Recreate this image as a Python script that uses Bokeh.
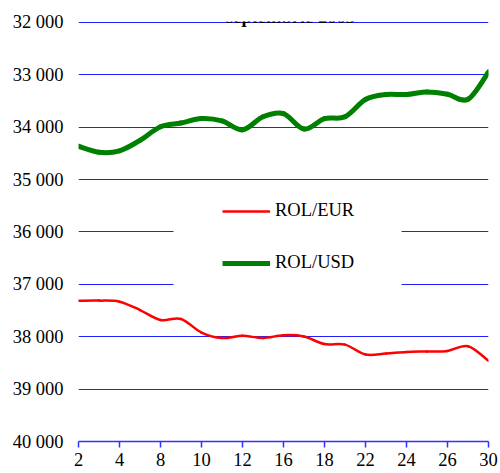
from bokeh.plotting import figure
from bokeh.models import (Range1d, FixedTicker, Legend, LegendItem, Label, BoxAnnotation)
from bokeh.embed import file_html
from bokeh.resources import INLINE

# ---- data ----
days = [2, 3, 4, 5, 8, 9, 10, 11, 12, 15, 16, 17, 18, 19, 22, 23, 24, 25, 26, 29, 30]
rol_usd = [34363, 34477, 34450, 34250, 33990, 33920, 33835, 33880, 34050, 33800, 33740,
           34035, 33835, 33800, 33470, 33375, 33375, 33325, 33370, 33465, 32945]
rol_eur = [37313, 37310, 37330, 37490, 37680, 37660, 37920, 38025, 37980, 38025, 37970,
           37995, 38140, 38150, 38340, 38320, 38290, 38280, 38270, 38180, 38460]
y_ticks = [32000, 33000, 34000, 35000, 36000, 37000, 38000, 39000, 40000]
y_labels = ["32 000", "33 000", "34 000", "35 000", "36 000", "37 000", "38 000", "39 000", "40 000"]
series_names = ["ROL/EUR", "ROL/USD"]
title_text = "septembrie 2003"

FONT = "'Liberation Serif', 'Times New Roman', serif"
xs = list(range(len(days)))


def bezier_segments(x, y, t=1.0 / 6.0):
    n = len(x)
    seg = dict(x0=[], y0=[], x1=[], y1=[], cx0=[], cy0=[], cx1=[], cy1=[])
    for i in range(n - 1):
        ip = max(i - 1, 0)
        i2 = min(i + 2, n - 1)
        seg["x0"].append(x[i]); seg["y0"].append(y[i])
        seg["x1"].append(x[i + 1]); seg["y1"].append(y[i + 1])
        seg["cx0"].append(x[i] + (x[i + 1] - x[ip]) * t)
        seg["cy0"].append(y[i] + (y[i + 1] - y[ip]) * t)
        seg["cx1"].append(x[i + 1] - (x[i2] - x[i]) * t)
        seg["cy1"].append(y[i + 1] - (y[i2] - y[i]) * t)
    return seg


p = figure(width=500, height=473, output_backend="svg", toolbar_location=None,
           x_range=Range1d(0, len(days) - 1), y_range=Range1d(40000, 31981),
           min_border_left=78, min_border_right=12, min_border_top=21, min_border_bottom=32)
p.outline_line_color = None
p.background_fill_color = "white"
p.border_fill_color = "white"

# grid
p.xgrid.visible = False
p.ygrid.ticker = FixedTicker(ticks=y_ticks)
p.ygrid.grid_line_color = "#2020ff"
p.ygrid.grid_line_width = 1

# axes
yax = p.yaxis[0]
yax.ticker = FixedTicker(ticks=y_ticks)
yax.major_label_overrides = {t: l for t, l in zip(y_ticks, y_labels)}
yax.axis_line_color = None
yax.major_tick_line_color = None
yax.minor_tick_line_color = None
yax.major_tick_out = 0
yax.major_tick_in = 0
yax.major_label_standoff = 15
yax.major_label_text_font = FONT
yax.major_label_text_font_size = "18.5px"
yax.major_label_text_color = "black"

xax = p.xaxis[0]
xax.ticker = FixedTicker(ticks=xs[::2])
xax.major_label_overrides = {i: str(days[i]) for i in xs[::2]}
xax.axis_line_color = "#3030ff"
xax.axis_line_width = 1.5
xax.major_tick_line_color = "#3030ff"
xax.major_tick_line_width = 1.5
xax.major_tick_out = 6
xax.major_tick_in = 0
xax.minor_tick_line_color = None
xax.major_label_standoff = 5
xax.major_label_text_font = FONT
xax.major_label_text_font_size = "18.5px"
xax.major_label_text_color = "black"

# white legend box covering grid lines
box = BoxAnnotation(left=95, right=323, top=251, bottom=146,
                    left_units="screen", right_units="screen",
                    top_units="screen", bottom_units="screen",
                    fill_color="white", fill_alpha=1.0, line_color=None, level="underlay")
p.add_layout(box)

# series
eur = bezier_segments(xs, rol_eur)
usd = bezier_segments(xs, rol_usd)
r_eur = p.bezier(source=eur, x0="x0", y0="y0", x1="x1", y1="y1", cx0="cx0", cy0="cy0",
                 cx1="cx1", cy1="cy1", line_color="#ff0000", line_width=2.5, line_cap="round")
r_usd = p.bezier(source=usd, x0="x0", y0="y0", x1="x1", y1="y1", cx0="cx0", cy0="cy0",
                 cx1="cx1", cy1="cy1", line_color="#008000", line_width=5, line_cap="round")

# legend proxies
l_eur = p.line(x=[0, 1], y=[37000, 37000], line_color="#ff0000", line_width=2.5, visible=False)
l_usd = p.line(x=[0, 1], y=[37000, 37000], line_color="#008000", line_width=5, visible=False)
leg = Legend(items=[LegendItem(label=series_names[0], renderers=[l_eur]),
                    LegendItem(label=series_names[1], renderers=[l_usd])],
             location=(144, 168), padding=0, spacing=31, glyph_width=48, glyph_height=20,
             label_height=20, label_standoff=5, background_fill_alpha=0,
             border_line_color=None, label_text_font=FONT, label_text_font_size="18.5px",
             label_text_color="black")
p.add_layout(leg, "center")

title = Label(x=212, y=425, x_units="screen", y_units="screen", text=title_text,
              text_font=FONT, text_font_size="18.5px", text_font_style="bold",
              text_color="black", text_align="center", text_baseline="alphabetic")
p.add_layout(title)

open("out.html", "w").write(file_html(p, INLINE))
